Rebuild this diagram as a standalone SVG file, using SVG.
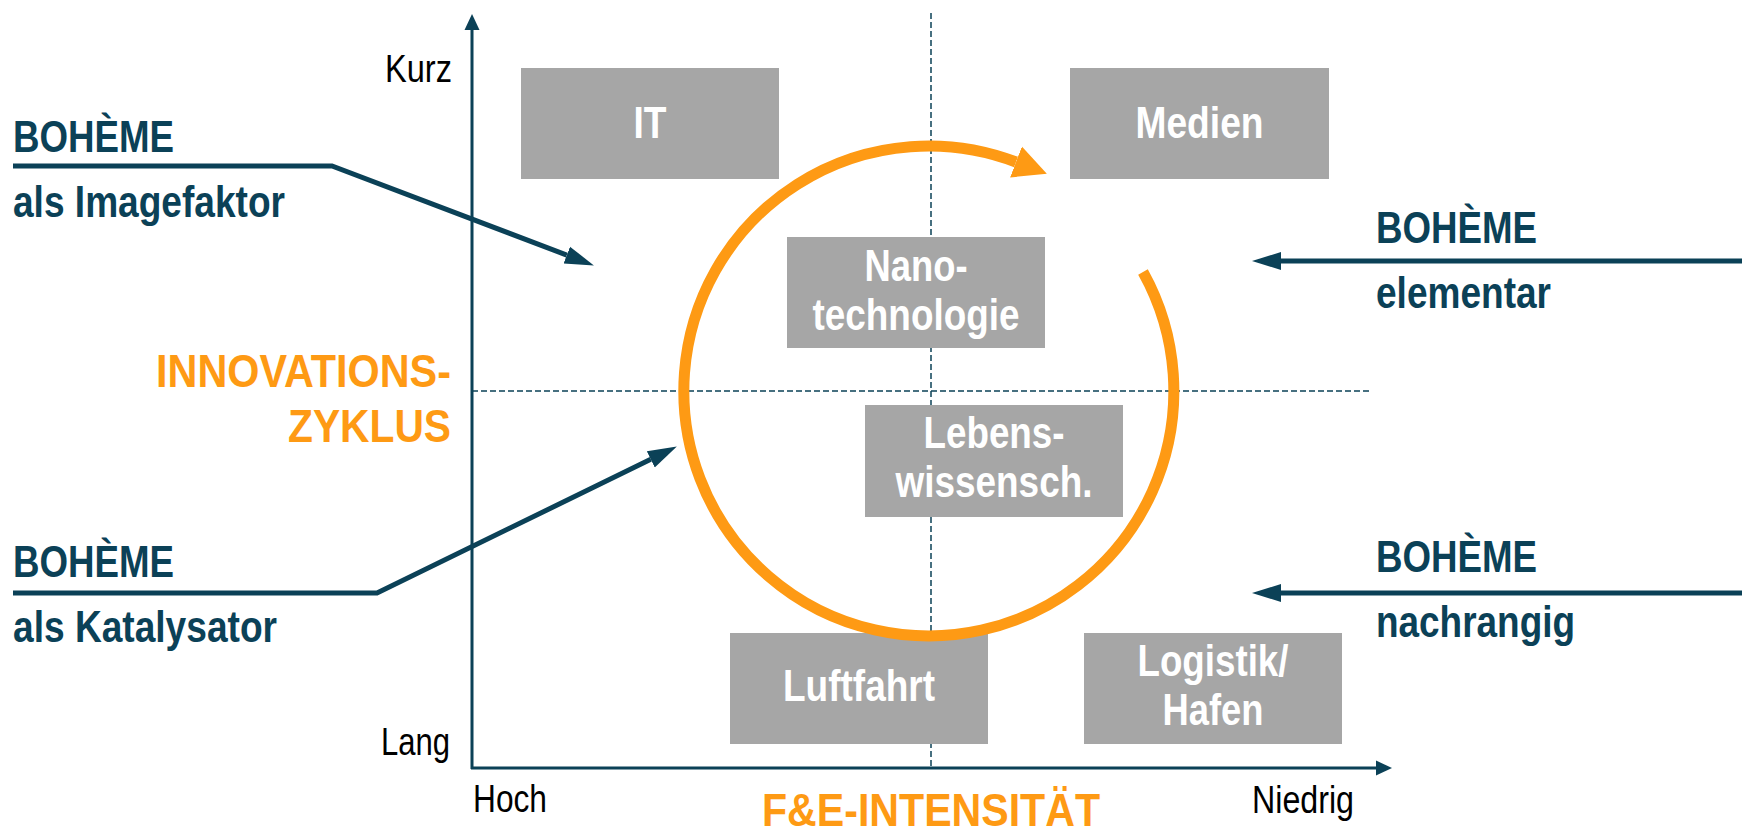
<svg xmlns="http://www.w3.org/2000/svg" width="1742" height="832" viewBox="0 0 1742 832">
<style>
.t{font-family:"Liberation Sans",Arial,sans-serif}
.ax{font-size:38px;fill:#000}
.box{fill:#a6a6a6}
.bt{font-size:44px;font-weight:bold;fill:#fff;text-anchor:middle}
.bo{font-size:44px;font-weight:bold;fill:#0b4157}
.or{font-size:47px;font-weight:bold;fill:#fe9a14}
.teal{stroke:#0b4157;fill:none}
.dash{stroke:#0b4157;stroke-width:1.5;stroke-dasharray:6 3;fill:none}
</style>
<defs>
<marker id="ah" markerUnits="userSpaceOnUse" markerWidth="30" markerHeight="20" viewBox="0 -10 30 20" refX="0" refY="0" orient="auto">
<path d="M0,-9 L29,0 L0,9 z" fill="#0b4157"/>
</marker>
<marker id="axh" markerUnits="userSpaceOnUse" markerWidth="17" markerHeight="16" viewBox="0 -8 17 16" refX="0" refY="0" orient="auto">
<path d="M0,-7.5 L16,0 L0,7.5 z" fill="#0b4157"/>
</marker>
<marker id="oh" markerUnits="userSpaceOnUse" markerWidth="34" markerHeight="36" viewBox="0 -18 34 36" refX="0" refY="0" orient="auto">
<path d="M0,-16.5 L33,0 L0,16.5 z" fill="#fe9a14"/>
</marker>
</defs>
<g id="grid">
<line class="dash" x1="931" y1="13" x2="931" y2="768"/>
<line class="dash" x1="472" y1="391" x2="1370" y2="391"/>
</g>
<g id="axes">
<line class="teal" stroke-width="3" x1="472" y1="769" x2="472" y2="30" marker-end="url(#axh)"/>
<line class="teal" stroke-width="3" x1="471" y1="768" x2="1376" y2="768" marker-end="url(#axh)"/>
<text class="t ax" x="452" y="82" text-anchor="end" textLength="67" lengthAdjust="spacingAndGlyphs">Kurz</text>
<text class="t ax" x="450" y="755" text-anchor="end" textLength="69" lengthAdjust="spacingAndGlyphs">Lang</text>
<text class="t ax" x="473" y="812" textLength="74" lengthAdjust="spacingAndGlyphs">Hoch</text>
<text class="t ax" x="1354" y="813" text-anchor="end" textLength="102" lengthAdjust="spacingAndGlyphs">Niedrig</text>
<text class="t or" x="931" y="826" text-anchor="middle" textLength="338" lengthAdjust="spacingAndGlyphs">F&amp;E-INTENSITÄT</text>
<text class="t or" x="451" y="387" text-anchor="end" textLength="295" lengthAdjust="spacingAndGlyphs">INNOVATIONS-</text>
<text class="t or" x="451" y="442" text-anchor="end" textLength="163" lengthAdjust="spacingAndGlyphs">ZYKLUS</text>
</g>
<g id="node-it"><rect class="box" x="521" y="68" width="258" height="111"/><text class="t bt" x="650" y="138" textLength="33" lengthAdjust="spacingAndGlyphs">IT</text></g>
<g id="node-medien"><rect class="box" x="1070" y="68" width="259" height="111"/><text class="t bt" x="1199.5" y="138" textLength="128" lengthAdjust="spacingAndGlyphs">Medien</text></g>
<g id="node-nano"><rect class="box" x="787" y="237" width="258" height="111"/><text class="t bt" x="916" y="281" textLength="103" lengthAdjust="spacingAndGlyphs">Nano-</text><text class="t bt" x="916" y="330" textLength="207" lengthAdjust="spacingAndGlyphs">technologie</text></g>
<g id="node-lebens"><rect class="box" x="865" y="405" width="258" height="112"/><text class="t bt" x="994" y="448" textLength="141" lengthAdjust="spacingAndGlyphs">Lebens-</text><text class="t bt" x="994" y="497" textLength="197" lengthAdjust="spacingAndGlyphs">wissensch.</text></g>
<g id="node-luftfahrt"><rect class="box" x="730" y="633" width="258" height="111"/><text class="t bt" x="859" y="701" textLength="152" lengthAdjust="spacingAndGlyphs">Luftfahrt</text></g>
<g id="node-logistik"><rect class="box" x="1084" y="633" width="258" height="111"/><text class="t bt" x="1213" y="676" textLength="151" lengthAdjust="spacingAndGlyphs">Logistik/</text><text class="t bt" x="1213" y="725" textLength="101" lengthAdjust="spacingAndGlyphs">Hafen</text></g>
<g id="cycle">
<path d="M1143 272 A245 245 0 1 1 1016 162" fill="none" stroke="#fe9a14" stroke-width="11" marker-end="url(#oh)"/>
</g>
<g id="label-imagefaktor"><text class="t bo" x="13" y="152" textLength="161" lengthAdjust="spacingAndGlyphs">BOHÈME</text><text class="t bo" x="13" y="217" textLength="272" lengthAdjust="spacingAndGlyphs">als Imagefaktor</text></g>
<g id="label-katalysator"><text class="t bo" x="13" y="577" textLength="161" lengthAdjust="spacingAndGlyphs">BOHÈME</text><text class="t bo" x="13" y="642" textLength="264" lengthAdjust="spacingAndGlyphs">als Katalysator</text></g>
<g id="label-elementar"><text class="t bo" x="1376" y="243" textLength="161" lengthAdjust="spacingAndGlyphs">BOHÈME</text><text class="t bo" x="1376" y="308" textLength="175" lengthAdjust="spacingAndGlyphs">elementar</text></g>
<g id="label-nachrangig"><text class="t bo" x="1376" y="572" textLength="161" lengthAdjust="spacingAndGlyphs">BOHÈME</text><text class="t bo" x="1376" y="637" textLength="199" lengthAdjust="spacingAndGlyphs">nachrangig</text></g>
<g id="connectors">
<path class="teal" stroke-width="5" d="M13 166 H332 L566.8 255.1" marker-end="url(#ah)"/>
<path class="teal" stroke-width="5" d="M13 593 H377 L650.8 459.3" marker-end="url(#ah)"/>
<path class="teal" stroke-width="5" d="M1742 261 H1281" marker-end="url(#ah)"/>
<path class="teal" stroke-width="5" d="M1742 593 H1281" marker-end="url(#ah)"/>
</g>
</svg>
